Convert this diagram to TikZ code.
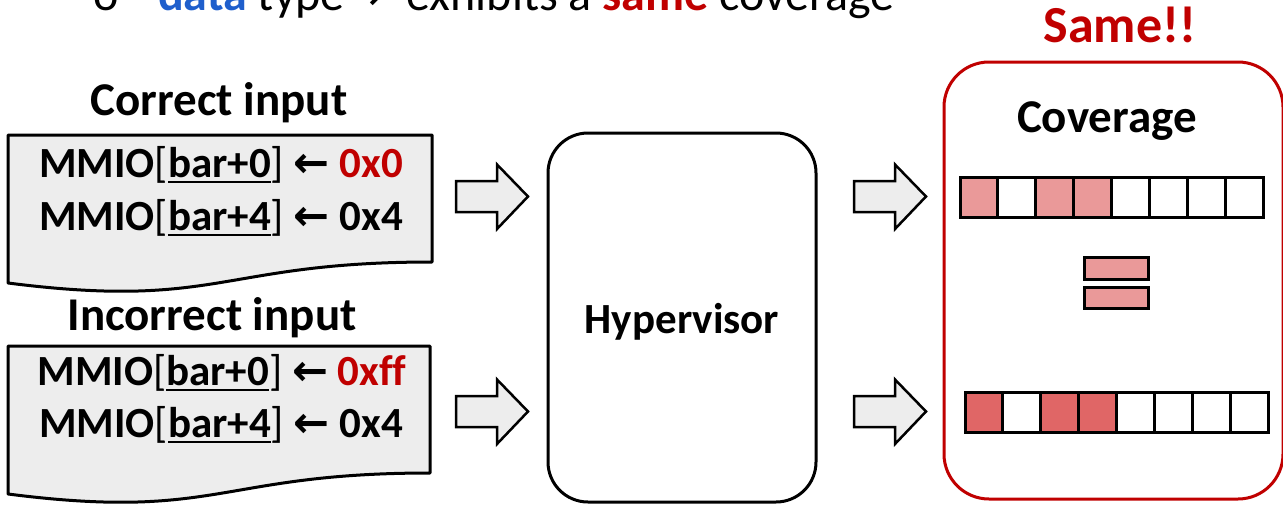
\documentclass[tikz,border=0pt]{standalone}
\usepackage{fontspec}
\setmainfont{Carlito}[Ligatures=CommonOff]
\newfontfamily\symfont{DejaVu Sans}
\usetikzlibrary{calc}

\definecolor{boxred}{HTML}{C00000}
\definecolor{docgray}{HTML}{EDEDED}
\definecolor{hitlight}{HTML}{EA9999}
\definecolor{hitdark}{HTML}{E06666}
\definecolor{kwblue}{HTML}{1F5FCC}

% underlined register offset
\newcommand\regoff[1]{\setbox0\hbox{#1}\rlap{\rule[-6pt]{\wd0}{2pt}}\box0}
% thin brackets and a bold left arrow
\newcommand\lbrk{{\mdseries[}}
\newcommand\rbrk{{\mdseries]}}
\newcommand\wrarrow{{\symfont\bfseries ←}}

\tikzset{
  title/.style={font=\fontsize{47}{50}\selectfont\bfseries, anchor=base, inner sep=0pt},
  codeline/.style={font=\fontsize{43}{46}\selectfont\bfseries, anchor=base, inner sep=0pt},
  docshape/.style={draw=black, fill=docgray, line width=3pt, line join=round},
  blockarrow/.style={draw=black, fill=docgray, line width=2.5pt, line join=miter},
  cell/.style={draw=black, line width=3pt},
}

% block arrow with its tail centre at (#1,#2)
\newcommand\blockarr[3]{%
  \draw[blockarrow] (#1,#2-15.5) -- ++(41,0) -- ++(0,-16.5) -- (#1+72,#2)
    -- (#1+41,#2+32.5) -- ++(0,-17) -- (#1,#2+15.5) -- cycle;
  \coordinate (#3) at (#1+72,#2);}

\begin{document}
\begin{tikzpicture}[x=1pt,y=-1pt]
\useasboundingbox (0,0) rectangle (1283,504);
\clip (0,0) rectangle (1283,504);

% bullet line above the figure
\node[anchor=base west, inner sep=0pt, font=\fontsize{48}{50}\selectfont] (bul) at (93,10) {o};
\node[anchor=base west, inner sep=0pt, font=\fontsize{48}{50}\selectfont] (claim) at (158,10)
  {\textcolor{kwblue}{\bfseries data} type{\symfont →}\ \ exhibits a \textcolor{boxred}{\bfseries same} coverage};

% correct input document
\draw[docshape] (8,135) -- (432,135) -- (432,262)
  .. controls (220,262) and (220,310) .. (8,283) -- cycle;
\node[title] (ctitle) at (219,115) {Correct input};
\node[codeline] (c1) at (221,177) {MMIO\lbrk\regoff{bar+0}\rbrk\ \wrarrow\ \textcolor{boxred}{0x0}};
\node[codeline] (c2) at (221,230) {MMIO\lbrk\regoff{bar+4}\rbrk\ \wrarrow\ 0x4};

% incorrect input document
\draw[docshape] (8,346) -- (430,346) -- (430,473)
  .. controls (219,473) and (219,521) .. (8,494) -- cycle;
\node[title] (ititle) at (212,330) {Incorrect input};
\node[codeline] (i1) at (222,385) {MMIO\lbrk\regoff{bar+0}\rbrk\ \wrarrow\ \textcolor{boxred}{0xff}};
\node[codeline] (i2) at (221,437) {MMIO\lbrk\regoff{bar+4}\rbrk\ \wrarrow\ 0x4};

% hypervisor
\draw[line width=3pt, rounded corners=40pt] (548,133) rectangle (816,502);
\node[codeline] (hv) at (682,333) {Hypervisor};

% block arrows in and out of the hypervisor
\blockarr{456}{196.5}{inA}
\blockarr{456}{411.5}{inB}
\blockarr{854}{196.5}{outA}
\blockarr{854}{411.5}{outB}

% coverage panel
\draw[boxred, line width=3pt, rounded corners=45pt] (944,62) rectangle (1283,499);
\node[title, text=boxred, font=\fontsize{52}{54}\selectfont\bfseries] (same) at (1120,42) {Same!!};
\node[title] (cov) at (1107,132) {Coverage};

% coverage bitmap for the correct input
\foreach \i in {0,...,7} {
  \pgfmathsetmacro\xa{960+\i*37.875}
  \pgfmathsetmacro\xb{960+(\i+1)*37.875}
  \draw[cell, fill=white] (\xa,177) rectangle (\xb,217);
}
\foreach \i in {0,2,3} {
  \pgfmathsetmacro\xa{960+\i*37.875}
  \pgfmathsetmacro\xb{960+(\i+1)*37.875}
  \draw[cell, fill=hitlight] (\xa,177) rectangle (\xb,217);
}

% equality sign
\draw[cell, fill=hitlight] (1084,257) rectangle (1148,279);
\draw[cell, fill=hitlight] (1084,287) rectangle (1148,308);

% coverage bitmap for the incorrect input
\foreach \i in {0,...,7} {
  \pgfmathsetmacro\xa{965+\i*37.875}
  \pgfmathsetmacro\xb{965+(\i+1)*37.875}
  \draw[cell, fill=white] (\xa,392) rectangle (\xb,432);
}
\foreach \i in {0,2,3} {
  \pgfmathsetmacro\xa{965+\i*37.875}
  \pgfmathsetmacro\xb{965+(\i+1)*37.875}
  \draw[cell, fill=hitdark] (\xa,392) rectangle (\xb,432);
}
\end{tikzpicture}
\end{document}
